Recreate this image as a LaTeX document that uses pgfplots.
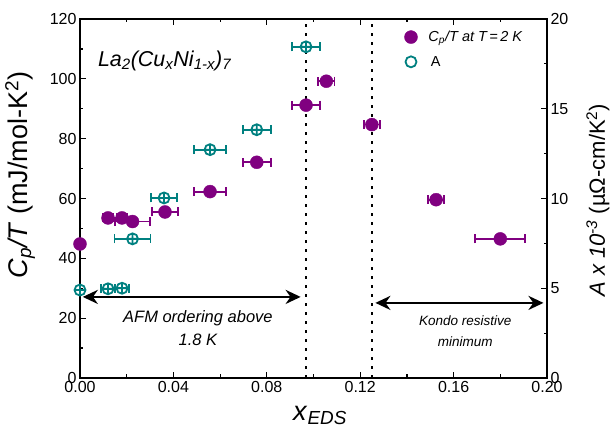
\documentclass[border=0pt]{standalone}
\usepackage{fontspec}
\setmainfont{Liberation Sans}
\usepackage{pgfplots}
\pgfplotsset{compat=1.18}
\usetikzlibrary{arrows.meta}
\definecolor{cpurple}{RGB}{128,0,128}
\definecolor{cteal}{RGB}{0,128,128}

\pgfplotstableread{
x y ex
0.0000 44.8 0
0.0120 53.5 0.002
0.0180 53.5 0.002
0.0225 52.3 0.0075
0.0364 55.5 0.0056
0.0557 62.3 0.0068
0.0757 72.1 0.006
0.0968 91.2 0.006
0.1055 99.2 0.0035
0.1250 84.7 0.0035
0.1525 59.6 0.0035
0.1800 46.5 0.0107
}\cpdata

\pgfplotstableread{
x y ex
0.0000 4.90 0
0.0120 4.97 0.003
0.0180 5.00 0.003
0.0225 7.75 0.0077
0.0360 10.03 0.0056
0.0557 12.72 0.0068
0.0757 13.83 0.006
0.0968 18.45 0.006
}\adata

\begin{document}
\begin{tikzpicture}
\useasboundingbox (-80pt,-49pt) rectangle (533pt,378pt);
\begin{axis}[
 scale only axis, width=467pt, height=359pt,
 xmin=0, xmax=0.2, ymin=0, ymax=120,
 xtick={0,0.04,0.08,0.12,0.16,0.20},
 xticklabels={0.00,0.04,0.08,0.12,0.16,0.20},
 minor xtick={0.02,0.06,0.10,0.14,0.18},
 ytick={0,20,40,60,80,100,120},
 minor ytick={10,30,50,70,90,110},
 ytick pos=left, xtick pos=both,
 tick align=inside,
 major tick length=6pt, minor tick length=3.5pt,
 every tick/.style={line width=1.2pt, black},
 axis line style={line width=1.4pt},
 tick label style={font=\fontsize{16}{19}\selectfont},
 /pgf/number format/assume math mode=true,
 xlabel={\textit{x}\textsubscript{\textit{EDS}}},
 xlabel style={font=\fontsize{27}{30}\selectfont, at={(axis description cs:0.514,-0.117)}, anchor=base},
 ylabel={\textit{C}\textsubscript{\textit{p}}\textit{/T} (mJ/mol-K\textsuperscript{2})},
 ylabel style={font=\fontsize{27}{30}\selectfont, at={(axis description cs:-0.128,0.565)}, anchor=center},
 clip=false,
]
\addplot[cpurple, only marks, mark=*, mark size=6.5pt,
  error bars/.cd, x dir=both, x explicit,
  error bar style={line width=1.8pt, cpurple},
  error mark options={rotate=90, mark size=4.5pt, line width=1.8pt, cpurple}]
  table[x=x, y=y, x error=ex] {\cpdata};
\addplot[black, line width=2.2pt, dash pattern=on 3pt off 6pt] coordinates {(0.0968,0) (0.0968,120)};
\addplot[black, line width=2.2pt, dash pattern=on 3pt off 6pt] coordinates {(0.125,0) (0.125,120)};
\draw[line width=2.5pt, {Stealth[length=15pt,width=14pt]}-{Stealth[length=15pt,width=14pt]}]
  (axis cs:0.0012,27.1) -- (axis cs:0.0945,27.1);
\draw[line width=2.5pt, {Stealth[length=15pt,width=14pt]}-{Stealth[length=15pt,width=14pt]}]
  (axis cs:0.1265,25.1) -- (axis cs:0.1985,25.1);
\node[anchor=base, font=\fontsize{16.5}{19}\selectfont\itshape] at (axis cs:0.0505,18.4) {AFM ordering above};
\node[anchor=base, font=\fontsize{16.5}{19}\selectfont\itshape] at (axis cs:0.0505,10.7) {1.8 K};
\node[anchor=base, font=\fontsize{13.5}{16}\selectfont\itshape] at (axis cs:0.165,17.7) {Kondo resistive};
\node[anchor=base, font=\fontsize{13.5}{16}\selectfont\itshape] at (axis cs:0.165,10.4) {minimum};
\node[anchor=base west, font=\fontsize{21.5}{26}\selectfont\itshape] at (rel axis cs:0.031,0.869)
  {La\textsubscript{2}(Cu\textsubscript{x}Ni\textsubscript{1-x})\textsubscript{7}};
\end{axis}
\begin{axis}[
 scale only axis, width=467pt, height=359pt,
 xmin=0, xmax=0.2, ymin=0, ymax=20,
 axis x line=none,
 axis y line*=right,
 ytick={0,5,10,15,20},
 minor ytick={2.5,7.5,12.5,17.5},
 tick align=inside,
 major tick length=6pt, minor tick length=3.5pt,
 every tick/.style={line width=1.2pt, black},
 axis line style={line width=1.4pt, -},
 tick label style={font=\fontsize{16}{19}\selectfont},
 /pgf/number format/assume math mode=true,
 ylabel={\textit{A x 10\textsuperscript{-3}} (µΩ-cm/K\textsuperscript{2})},
 ylabel style={font=\fontsize{22}{26}\selectfont, at={(axis description cs:1.109,0.495)}, anchor=center},
 legend style={at={(rel axis cs:0.688,0.978)}, anchor=north west, draw=none, fill=none,
   font=\fontsize{14.5}{17}\selectfont, row sep=9pt, column sep=9pt},
 legend cell align=left,
 clip=false,
]
\addlegendimage{cpurple, only marks, mark=*, mark size=6.5pt}
\addlegendentry{\textit{C\textsubscript{p}/T at T\,=\,2 K}}
\addplot[cteal, only marks, mark=oplus, mark size=5.5pt, line width=1.8pt, forget plot,
  error bars/.cd, x dir=both, x explicit,
  error bar style={line width=1.8pt, cteal},
  error mark options={rotate=90, mark size=4.5pt, line width=1.8pt, cteal}]
  table[x=x, y=y, x error=ex] {\adata};
\addlegendimage{cteal, only marks, mark=o, mark size=5.5pt, line width=1.8pt}
\addlegendentry{\,A}
\end{axis}
\end{tikzpicture}
\end{document}
